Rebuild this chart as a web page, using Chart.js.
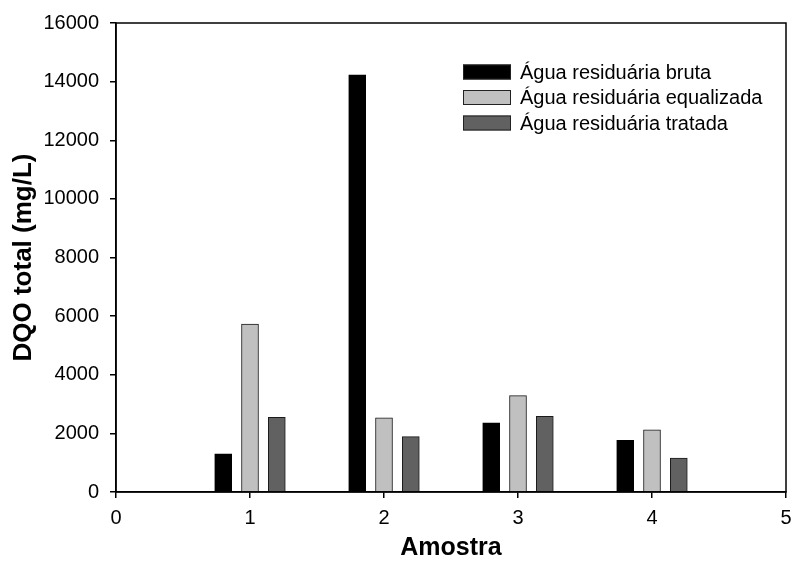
<!DOCTYPE html>
<html>
<head>
<meta charset="utf-8">
<script src="https://cdn.jsdelivr.net/npm/chart.js@4"></script>
<style>
  html, body { margin: 0; padding: 0; background: #fff; overflow: hidden; }
  canvas { display: block; }
</style>
</head>
<body>
<canvas id="dqoChart" width="800" height="563"></canvas>
<script>
// amostras 1..4
const amostras = [1, 2, 3, 4];
const brutaVals = [1300, 14230, 2360, 1760];
const equalizadaVals = [5730, 2530, 3290, 2120];
const tratadaVals = [2550, 1890, 2580, 1160];
const xTicks = [0, 1, 2, 3, 4, 5];
const yTicks = [0, 2000, 4000, 6000, 8000, 10000, 12000, 14000, 16000];

const FONT = "'Liberation Sans', Arial, sans-serif";
Chart.defaults.font.family = FONT;
Chart.defaults.color = "#000";

// bars of one sample sit side by side around the sample number
function pts(vals, shift) {
    return amostras.map((a, i) => ({ x: a + shift, y: vals[i] }));
}

const boxPlugin = {
    id: 'box',
    afterDraw(chart) {
        const { ctx, chartArea: a } = chart;
        ctx.save();
        ctx.strokeStyle = "#000";
        ctx.lineWidth = 1.5;
        ctx.strokeRect(a.left, a.top, a.right - a.left, a.bottom - a.top);
        ctx.restore();
    }
};

const legendPlugin = {
    id: 'boxLegend',
    afterDraw(chart) {
        const ctx = chart.ctx;
        ctx.save();
        ctx.font = "20px " + FONT;
        ctx.textBaseline = "middle";
        chart.data.datasets.forEach((ds, i) => {
            const y = 72 + i * 25.5;
            ctx.fillStyle = ds.backgroundColor;
            ctx.fillRect(463, y - 7.5, 48, 15);
            ctx.strokeStyle = "#222";
            ctx.lineWidth = 1;
            ctx.strokeRect(463.5, y - 7, 47, 14);
            ctx.fillStyle = "#000";
            ctx.fillText(ds.label, 520, y + 1);
        });
        ctx.restore();
    }
};

const CHART = document.getElementById("dqoChart");
let barChart = new Chart(CHART, {
    type: 'bar',
    data: {
        datasets: [
            {
                label: "Água residuária bruta",
                data: pts(brutaVals, -0.2),
                backgroundColor: "#000000",
                borderColor: "#000000",
                borderWidth: 1
            },
            {
                label: "Água residuária equalizada",
                data: pts(equalizadaVals, 0),
                backgroundColor: "#c0c0c0",
                borderColor: "#1a1a1a",
                borderWidth: 1
            },
            {
                label: "Água residuária tratada",
                data: pts(tratadaVals, 0.2),
                backgroundColor: "#616161",
                borderColor: "#1a1a1a",
                borderWidth: 1
            }
        ]
    },
    options: {
        responsive: false,
        animation: false,
        devicePixelRatio: 1,
        grouped: false,
        barThickness: 17,
        layout: { padding: { left: 0, top: 21, right: 14, bottom: 0 } },
        plugins: {
            legend: { display: false },
            tooltip: { enabled: false }
        },
        scales: {
            x: {
                type: 'linear',
                offset: false,
                min: 0,
                max: 5,
                afterBuildTicks: s => { s.ticks = xTicks.map(v => ({ value: v })); },
                afterFit: s => { s.height = 71; },
                ticks: {
                    font: { size: 20 },
                    padding: 8,
                    maxRotation: 0,
                    callback: v => String(v)
                },
                grid: {
                    offset: false,
                    drawOnChartArea: false,
                    tickLength: 6,
                    color: "#000",
                    lineWidth: 1.5
                },
                border: { color: "#000", width: 1.5 },
                title: {
                    display: true,
                    text: "Amostra",
                    font: { size: 25, weight: 'bold' },
                    padding: { top: 0, bottom: 0 }
                }
            },
            y: {
                min: 0,
                max: 16000,
                afterBuildTicks: s => { s.ticks = yTicks.map(v => ({ value: v })); },
                afterFit: s => { s.width = 116; },
                ticks: {
                    font: { size: 20 },
                    padding: 11,
                    callback: v => String(v)
                },
                grid: {
                    drawOnChartArea: false,
                    tickLength: 6,
                    color: "#000",
                    lineWidth: 1.5
                },
                border: { color: "#000", width: 1.5 },
                title: {
                    display: true,
                    text: "DQO total (mg/L)",
                    font: { size: 26, weight: 'bold' },
                    padding: { top: 8, bottom: 0 }
                }
            }
        }
    },
    plugins: [boxPlugin, legendPlugin]
});
</script>
</body>
</html>
